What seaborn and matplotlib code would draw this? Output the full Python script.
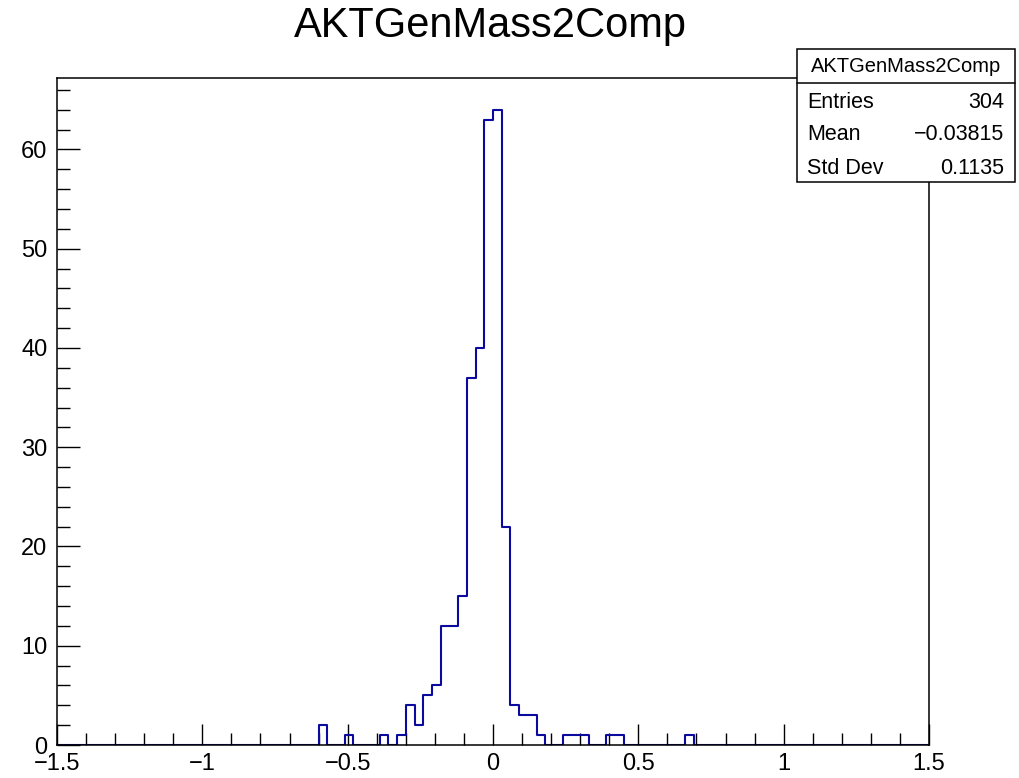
import numpy as np
import pandas as pd
import matplotlib
matplotlib.use("Agg")
import matplotlib.pyplot as plt
from matplotlib.patches import Rectangle
from matplotlib.ticker import MultipleLocator
import seaborn as sns

# ---- data (bin width 0.03 from -1.5 to 1.5) ----
bin_low_edges = [-0.60, -0.51, -0.39, -0.33, -0.30, -0.27, -0.24, -0.21, -0.18, -0.15,
                 -0.12, -0.09, -0.06, -0.03, 0.00, 0.03, 0.06, 0.09, 0.12, 0.15,
                 0.24, 0.27, 0.30, 0.39, 0.42, 0.66]
bin_counts = [2, 1, 1, 1, 4, 2, 5, 6, 12, 12,
              15, 37, 40, 63, 64, 22, 4, 3, 3, 1,
              1, 1, 1, 1, 1, 1]
hist_name = "AKTGenMass2Comp"
stat_labels = ["Entries", "Mean", "Std Dev"]
stat_values = ["304", "\u22120.03815", "0.1135"]
x_tick_values = [-1.5, -1.0, -0.5, 0.0, 0.5, 1.0, 1.5]
x_tick_labels = ["\u22121.5", "\u22121", "\u22120.5", "0", "0.5", "1", "1.5"]
y_tick_values = [0, 10, 20, 30, 40, 50, 60]
y_tick_labels = ["0", "10", "20", "30", "40", "50", "60"]

x_min, x_max = -1.5, 1.5
bin_width = 0.03

df = pd.DataFrame({"x": np.array(bin_low_edges) + bin_width / 2,
                   "w": np.array(bin_counts, dtype=float)})

sns.set_style("white")
plt.rcParams["font.family"] = ["Liberation Sans", "DejaVu Sans"]
plt.rcParams["text.color"] = "black"

W, H = 1020, 778
fig = plt.figure(figsize=(W / 100, H / 100), dpi=100)
ax = fig.add_axes([57 / W, 1 - 745 / H, (929 - 57) / W, (745 - 78) / H])

sns.histplot(data=df, x="x", weights="w", binwidth=bin_width, binrange=(x_min, x_max),
             element="step", fill=False, color="#0a0a9e", linewidth=1.5, ax=ax)

ax.set_xlim(x_min, x_max)
ax.set_ylim(0, max(bin_counts) * 1.05)
ax.set_xlabel("")
ax.set_ylabel("")

for s in ax.spines.values():
    s.set_visible(True)
    s.set_color("black")
    s.set_linewidth(1.1)

ax.set_xticks(x_tick_values)
ax.set_xticklabels(x_tick_labels)
ax.set_yticks(y_tick_values)
ax.set_yticklabels(y_tick_labels)
ax.xaxis.set_minor_locator(MultipleLocator(0.1))
ax.yaxis.set_minor_locator(MultipleLocator(2))
ax.tick_params(axis="both", which="both", direction="in", colors="black",
               labelcolor="black", bottom=True, left=True,
               top=False, right=False, width=1.0)
ax.tick_params(axis="x", which="major", length=15, pad=6, labelsize=17)
ax.tick_params(axis="x", which="minor", length=8.5)
ax.tick_params(axis="y", which="major", length=16.5, pad=7, labelsize=17)
ax.tick_params(axis="y", which="minor", length=9)

# title
fig.text(490 / W, 1 - 37 / H, hist_name, ha="center", va="baseline", fontsize=30,
         color="black")

# stats box
bx0, bx1, by0, by1 = 797, 1015, 49, 182
box = Rectangle((bx0 / W, 1 - by1 / H), (bx1 - bx0) / W, (by1 - by0) / H,
                transform=fig.transFigure, facecolor="white", edgecolor="black",
                linewidth=1.1, zorder=10)
fig.patches.append(box)
fig.add_artist(plt.Line2D([bx0 / W, bx1 / W], [1 - 83 / H, 1 - 83 / H],
                          transform=fig.transFigure, color="black", linewidth=1.1, zorder=11))
fig.text((bx0 + bx1) / 2 / W, 1 - 67 / H, hist_name, ha="center", va="center",
         fontsize=14.5, zorder=12, color="black")
row_y = [102, 135, 168]
for lab, val, yy in zip(stat_labels, stat_values, row_y):
    fig.text(807 / W, 1 - yy / H, lab, ha="left", va="center", fontsize=15.5, zorder=12,
             color="black")
    fig.text(1004 / W, 1 - yy / H, val, ha="right", va="center", fontsize=15.5, zorder=12,
             color="black")

fig.savefig("out.png", dpi=100, facecolor="white")
